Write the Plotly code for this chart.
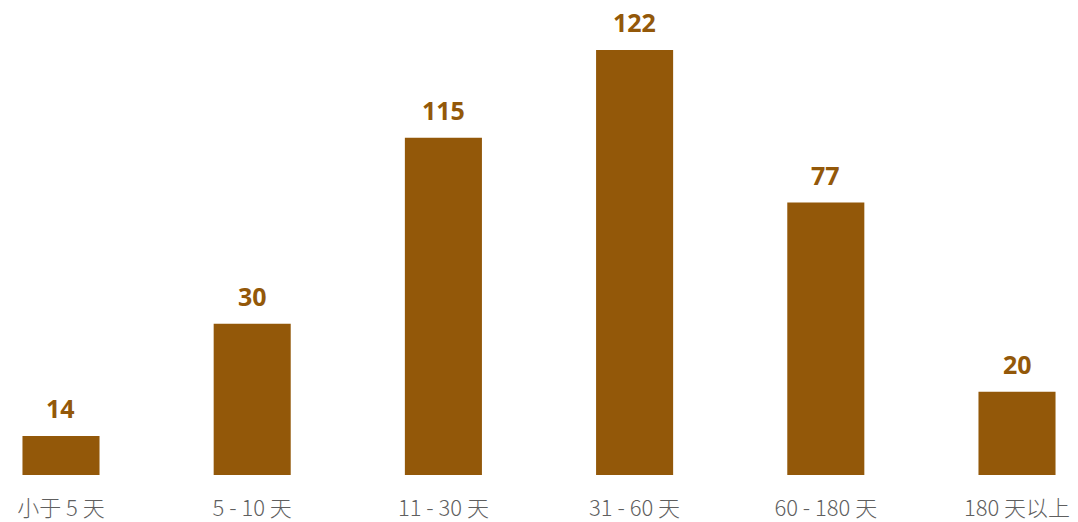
import plotly.graph_objects as go

categories = ["小于 5 天", "5 - 10 天", "11 - 30 天", "31 - 60 天", "60 - 180 天", "180 天以上"]
value_labels = [14, 30, 115, 122, 77, 20]
# bar heights as drawn in the picture (same units, 122 bar as reference)
bar_heights = [11.2, 43.4, 96.8, 122, 78.2, 23.9]

BAR = "#935809"

fig = go.Figure(go.Bar(
    x=list(range(len(categories))),
    y=bar_heights,
    marker=dict(color=BAR, line=dict(width=0)),
    width=0.403,
    hoverinfo="skip",
))

for i, (h, v) in enumerate(zip(bar_heights, value_labels)):
    fig.add_annotation(
        x=i, y=h, text=str(v), showarrow=False,
        xanchor="center", yanchor="bottom", yshift=9,
        font=dict(family="Open Sans", size=25, color=BAR, weight="bold"),
    )

fig.update_layout(
    width=1078, height=522,
    margin=dict(l=0, r=0, t=0, b=47),
    paper_bgcolor="white", plot_bgcolor="white",
    showlegend=False,
    xaxis=dict(
        range=[-0.319, 5.319], automargin=False,
        tickmode="array", tickvals=list(range(len(categories))), ticktext=categories,
        showgrid=False, zeroline=False, showline=False,
        ticks="outside", ticklen=14, tickcolor="rgba(0,0,0,0)",
        tickfont=dict(family="Noto Sans CJK SC", size=22, color="#5f5f5f", weight=300),
    ),
    yaxis=dict(range=[0, 136.35], visible=False, showgrid=False, zeroline=False),
)

fig.write_html(
    "out.html",
    config={"displayModeBar": False},
    post_script="document.body.style.margin='0';document.body.style.overflow='hidden';",
)
